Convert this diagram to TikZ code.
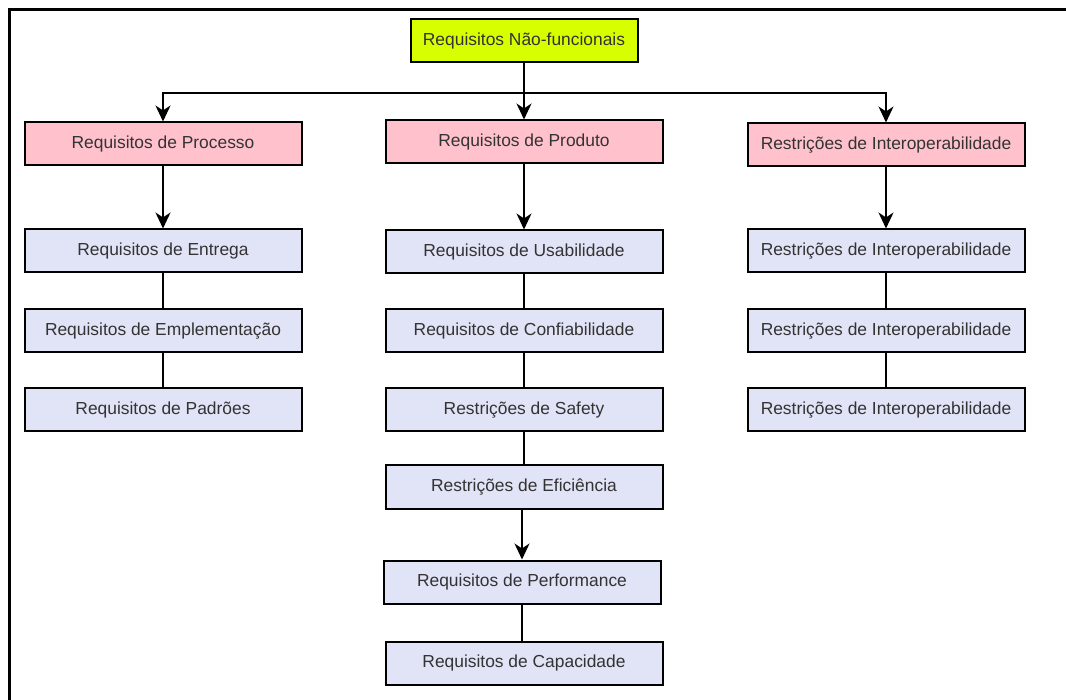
\documentclass[tikz,border=0pt]{standalone}
\usepackage{fontspec}
\setmainfont{Liberation Sans}
\usetikzlibrary{arrows.meta}

\definecolor{rootfill}{HTML}{D8FF00}
\definecolor{catfill}{HTML}{FFC2CC}
\definecolor{itemfill}{HTML}{E1E3F6}
\definecolor{labeltext}{HTML}{333333}

\tikzset{
  box/.style={draw=black, line width=2pt, rectangle, inner sep=0pt,
    minimum width=277pt, minimum height=43pt, text=labeltext,
    font=\fontsize{17.4}{20}\selectfont},
  rootbox/.style={box, fill=rootfill, minimum width=227pt},
  catbox/.style={box, fill=catfill},
  itembox/.style={box, fill=itemfill},
  link/.style={line width=2pt, draw=black},
  arrowlink/.style={link, -{Stealth[length=16pt,width=15pt,inset=5pt]}},
  frameline/.style={line width=3pt, draw=black}
}

\begin{document}
\begin{tikzpicture}[x=1pt, y=-1pt]
  \useasboundingbox (0,0) rectangle (1066,700);
  \fill[white] (0,0) rectangle (1066,700);

  % outer frame (only top and left edges fall inside the page)
  \draw[frameline] (1070,10) -| (9.5,704);

  % root
  \node[rootbox] (root) at (524,41) {Requisitos Não-funcionais};

  % categories
  \node[catbox] (proc)  at (163,144) {Requisitos de Processo};
  \node[catbox] (prod)  at (524,142) {Requisitos de Produto};
  \node[catbox] (inter) at (886,145) {Restrições de Interoperabilidade};

  % process column
  \node[itembox] (entrega) at (163,251) {Requisitos de Entrega};
  \node[itembox] (emplem)  at (163,331) {Requisitos de Emplementação};
  \node[itembox] (padroes) at (163,410) {Requisitos de Padrões};

  % product column
  \node[itembox] (usab)   at (524,252) {Requisitos de Usabilidade};
  \node[itembox] (confia) at (524,331) {Requisitos de Confiabilidade};
  \node[itembox] (safety) at (524,410) {Restrições de Safety};
  \node[itembox] (efic)   at (524,487) {Restrições de Eficiência};
  \node[itembox] (perf)   at (522,582) {Requisitos de Performance};
  \node[itembox] (capac)  at (524,663) {Requisitos de Capacidade};

  % interoperability column
  \node[itembox] (interA) at (886,251) {Restrições de Interoperabilidade};
  \node[itembox] (interB) at (886,331) {Restrições de Interoperabilidade};
  \node[itembox] (interC) at (886,410) {Restrições de Interoperabilidade};

  % distribution bus under the root
  \coordinate (bus) at (524,93);
  \draw[arrowlink] (root) -- (prod);
  \draw[arrowlink] (bus) -| (proc);
  \draw[arrowlink] (bus) -| (inter);

  % column links
  \draw[arrowlink] (proc) -- (entrega);
  \draw[link] (entrega) -- (emplem);
  \draw[link] (emplem) -- (padroes);

  \draw[arrowlink] (prod) -- (usab);
  \draw[link] (usab) -- (confia);
  \draw[link] (confia) -- (safety);
  \draw[link] (safety) -- (efic);
  \draw[arrowlink] (efic.south -| perf) -- (perf);
  \draw[link] (perf) -- (capac.north -| perf);

  \draw[arrowlink] (inter) -- (interA);
  \draw[link] (interA) -- (interB);
  \draw[link] (interB) -- (interC);
\end{tikzpicture}
\end{document}
